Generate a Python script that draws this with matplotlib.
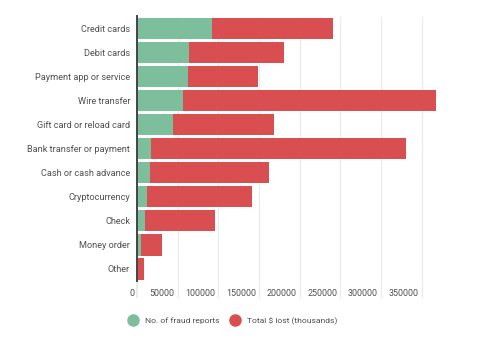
import matplotlib
matplotlib.use("Agg")
import matplotlib.pyplot as plt
import matplotlib.transforms as mtransforms
from matplotlib.lines import Line2D

plt.rcParams['font.family'] = ['Roboto', 'DejaVu Sans']

categories = ["Credit cards", "Debit cards", "Payment app or service", "Wire transfer",
              "Gift card or reload card", "Bank transfer or payment", "Cash or cash advance",
              "Cryptocurrency", "Check", "Money order", "Other"]
reports = [91900, 64500, 62400, 57100, 44500, 17800, 15400, 12900, 9600, 5200, 1500]
lost = [148600, 116300, 86900, 310500, 123600, 313300, 146500, 128600, 86000, 25800, 6900]
xticks = [0, 50000, 100000, 150000, 200000, 250000, 300000, 350000]

green = '#7dbf9c'
red = '#d94e50'
txt = '#505050'

fig = plt.figure(figsize=(4.88, 3.39), dpi=100)
ax = fig.add_axes([137/488, 58/339, 301/488, 264.5/339])

y = range(len(categories))
ax.barh(y, reports, height=0.88, color=green, zorder=2)
ax.barh(y, lost, left=reports, height=0.88, color=red, zorder=2)

ax.set_ylim(len(categories) - 0.5, -0.5)
ax.set_xlim(0, 370000)
ax.set_yticks(list(y))
ax.set_yticklabels(categories, fontsize=6.6, color=txt)
ax.tick_params(axis='y', length=0, pad=5)

ax.set_xticks(xticks)
ax.set_xticklabels([str(v) for v in xticks], fontsize=6.4, color=txt)
ax.tick_params(axis='x', length=12, width=0.9, color='#ebebeb', direction='out', pad=-6.5)
# labels sit just left of their gridline
offset = mtransforms.ScaledTranslation(-3/100, 0, fig.dpi_scale_trans)
for lab in ax.get_xticklabels():
    lab.set_horizontalalignment('right')
    lab.set_transform(lab.get_transform() + offset)
first = ax.xaxis.get_major_ticks()[0]
first.tick1line.set_color('#444444')
first.tick1line.set_markeredgewidth(1.4)

ax.grid(axis='x', color='#ebebeb', linewidth=0.9, zorder=0)
for s in ['top', 'right', 'bottom']:
    ax.spines[s].set_visible(False)
ax.spines['left'].set_color('#444444')
ax.spines['left'].set_linewidth(1.4)
ax.spines['left'].set_zorder(3)

handles = [Line2D([], [], marker='o', linestyle='', markersize=8, color=green),
           Line2D([], [], marker='o', linestyle='', markersize=8, color=red)]
fig.legend(handles, ["No. of fraud reports", "Total $ lost (thousands)"],
           loc='center', bbox_to_anchor=(231/488, 1 - 321/339), ncol=2, frameon=False,
           fontsize=6.1, labelcolor=txt, handletextpad=0.4, columnspacing=0.8)

fig.savefig("out.png", dpi=100)
